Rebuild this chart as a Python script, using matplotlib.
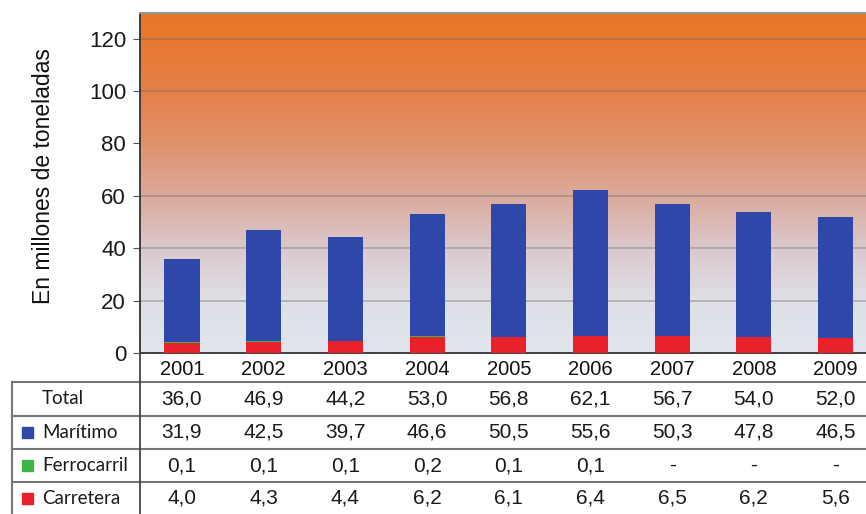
import numpy as np
import matplotlib
matplotlib.use("Agg")
import matplotlib.pyplot as plt
from matplotlib import transforms
from matplotlib.colors import LinearSegmentedColormap
from matplotlib.lines import Line2D
from matplotlib.patches import Rectangle

years = ["2001", "2002", "2003", "2004", "2005", "2006", "2007", "2008", "2009"]
total = [36.0, 46.9, 44.2, 53.0, 56.8, 62.1, 56.7, 54.0, 52.0]
maritimo = [31.9, 42.5, 39.7, 46.6, 50.5, 55.6, 50.3, 47.8, 46.5]
ferrocarril = [0.1, 0.1, 0.1, 0.2, 0.1, 0.1, None, None, None]
carretera = [4.0, 4.3, 4.4, 6.2, 6.1, 6.4, 6.5, 6.2, 5.6]
row_labels = ["Total", "Marítimo", "Ferrocarril", "Carretera"]
yticks = [0, 20, 40, 60, 80, 100, 120]

BLUE = "#2f47a9"
GREEN = "#3fb548"
RED = "#e8212b"

W, H = 866, 514
fig = plt.figure(figsize=(W / 100, H / 100), dpi=100)
fig.patch.set_facecolor("white")

def fx(px):
    return px / W

def fy(py):
    return 1 - py / H

ax_l, ax_r, ax_t, ax_b = 140, 866, 13, 353
ax = fig.add_axes([fx(ax_l), fy(ax_b), fx(ax_r - ax_l), (ax_b - ax_t) / H])
xmin, xmax = -0.514, 8.373
ymax = 129.8
ax.set_xlim(xmin, xmax)
ax.set_ylim(0, ymax)

# vertical background gradient: light grey-blue at the bottom to orange at the top
stops = [(0, (225, 229, 237)), (20, (223, 223, 230)), (40, (218, 200, 205)),
         (60, (219, 170, 155)), (80, (224, 145, 108)), (100, (229, 128, 72)),
         (120, (232, 121, 48)), (ymax, (234, 118, 36))]
cmap = LinearSegmentedColormap.from_list(
    "bg", [(v / ymax, tuple(c / 255 for c in col)) for v, col in stops])
grad = np.linspace(0, 1, 512).reshape(-1, 1)
ax.imshow(grad, cmap=cmap, origin="lower", aspect="auto",
          extent=[xmin, xmax, 0, ymax], zorder=0, interpolation="bilinear")

for g in [20, 40, 60, 100, 120]:
    ax.axhline(g, color="#6e6e6e", alpha=0.45, lw=1.2, zorder=1)

x = np.arange(len(years))
fer = np.array([v if v is not None else 0.0 for v in ferrocarril])
car = np.array(carretera)
mar = np.array(maritimo)
bw = 0.43
ax.bar(x, car, bw, color=RED, zorder=3)
ax.bar(x, fer, bw, bottom=car, color=GREEN, zorder=3)
ax.bar(x, mar, bw, bottom=car + fer, color=BLUE, zorder=3)

ax.spines["right"].set_visible(False)
ax.spines["top"].set_color("#8a9aa0")
ax.spines["top"].set_linewidth(1.5)
ax.spines["left"].set_color("#333333")
ax.spines["left"].set_linewidth(1.3)
ax.spines["bottom"].set_color("#333333")
ax.spines["bottom"].set_linewidth(1.3)

ax.set_yticks(yticks)
ax.set_yticklabels([str(t) for t in yticks], fontsize=16,
                   family="Liberation Sans", color="#1a1a1a")
ax.tick_params(axis="y", direction="out", length=5, color="#555555", pad=5)
ax.set_xticks(x)
ax.set_xticklabels(years, fontsize=14.5, family="Liberation Sans", color="#111111")
ax.tick_params(axis="x", length=0, pad=5)
ax.set_ylabel("En millones de toneladas", fontsize=16.5, family="Liberation Sans",
              color="#111111")
ax.yaxis.set_label_coords((55 - ax_l) / (ax_r - ax_l), 0.52)

# data table under the chart
trans = transforms.blended_transform_factory(ax.transData, fig.transFigure)
lc = "#777777"
tab_top, tab_left, col_div = 382, 12, 140
row_edges = [382, 416, 449, 482, 514]
for ypx in row_edges[:-1]:
    fig.add_artist(Line2D([fx(tab_left), 1], [fy(ypx), fy(ypx)],
                          color=lc, lw=1.5))
fig.add_artist(Line2D([fx(tab_left), fx(tab_left)], [fy(tab_top), 0],
                      color=lc, lw=1.5))
fig.add_artist(Line2D([fx(col_div), fx(col_div)], [fy(ax_b), 0],
                      color="#444444", lw=1.3))

def fmt(v):
    return ("%.1f" % v).replace(".", ",") if v is not None else "-"

rows = [[fmt(v) for v in total], [fmt(v) for v in maritimo],
        [fmt(v) for v in ferrocarril], [fmt(v) for v in carretera]]
swatches = [None, BLUE, GREEN, RED]
for r, (lab, vals, sw) in enumerate(zip(row_labels, rows, swatches)):
    yc = (row_edges[r] + row_edges[r + 1]) / 2
    fig.text(fx(42), fy(yc), lab, fontsize=13.5, family="Lato",
             color="#1a1a1a", ha="left", va="center")
    if sw is not None:
        fig.add_artist(Rectangle((fx(22), fy(yc + 5.5)), 11 / W, 11 / H,
                                 transform=fig.transFigure, color=sw))
    for i, v in enumerate(vals):
        fig.text(i, fy(yc), v, transform=trans, fontsize=15,
                 family="Liberation Sans", color="#1a1a1a",
                 ha="center", va="center")

fig.savefig("out.png", dpi=100)
